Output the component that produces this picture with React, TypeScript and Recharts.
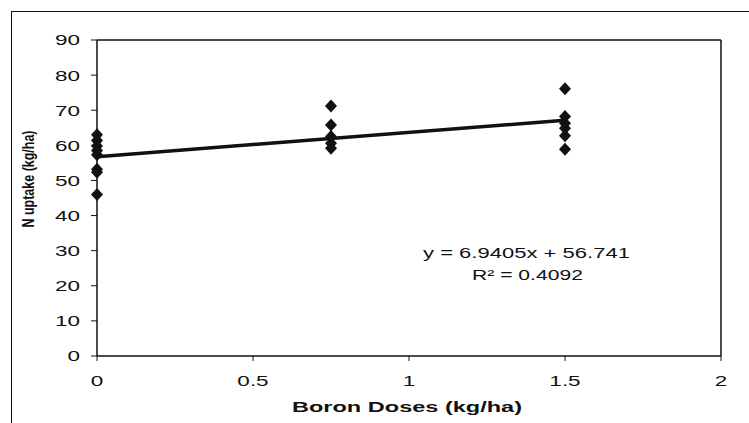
import React from 'react';
import {
  ScatterChart,
  Scatter,
  XAxis,
  YAxis,
  ReferenceLine,
} from 'recharts';

// Boron dose groups (kg/ha) and the N uptake readings at each
const doseNone = [0, 0, 0, 0, 0, 0, 0, 0];
const uptakeNone = [63, 61.4, 59.8, 58.5, 57.3, 53.2, 52.3, 46];
const doseMid = [0.75, 0.75, 0.75, 0.75, 0.75];
const uptakeMid = [71.2, 65.8, 62.5, 60.6, 59.2];
const doseHigh = [1.5, 1.5, 1.5, 1.5, 1.5, 1.5];
const uptakeHigh = [76.1, 68.2, 66.3, 64.9, 62.7, 58.9];

// linear trendline shown on the chart
const slope = 6.9405;
const intercept = 56.741;
const trendRange = [0, 1.5];

const xTicks = [0, 0.5, 1, 1.5, 2];
const yTicks = [0, 10, 20, 30, 40, 50, 60, 70, 80, 90];

const points = [
  ...doseNone.map((x, i) => ({ x, y: uptakeNone[i] })),
  ...doseMid.map((x, i) => ({ x, y: uptakeMid[i] })),
  ...doseHigh.map((x, i) => ({ x, y: uptakeHigh[i] })),
];
const trend = trendRange.map((x) => ({ x, y: slope * x + intercept }));

const ink = '#111';
const font = '"Liberation Sans", Arial, sans-serif';

function Diamond(props: any) {
  const { cx, cy } = props;
  if (cx == null || cy == null) return <g />;
  return (
    <path
      d={`M${cx},${cy - 6.5}L${cx + 6},${cy}L${cx},${cy + 6.5}L${cx - 6},${cy}Z`}
      fill={ink}
    />
  );
}

function YTick(props: any) {
  const { x, y, payload } = props;
  return (
    <g transform={`translate(${x},${y})`}>
      <text
        transform="scale(1.5,1)"
        textAnchor="end"
        dy="0.36em"
        fontSize={15}
        fontFamily={font}
        fill={ink}
      >
        {payload.value}
      </text>
    </g>
  );
}

function XTick(props: any) {
  const { x, y, payload } = props;
  return (
    <g transform={`translate(${x},${y})`}>
      <text
        transform="scale(1.5,1)"
        textAnchor="middle"
        dy="0.36em"
        fontSize={15}
        fontFamily={font}
        fill={ink}
      >
        {payload.value}
      </text>
    </g>
  );
}

export default function App() {
  return (
    <div
      style={{
        position: 'absolute',
        left: 0,
        top: 0,
        width: 749,
        height: 423,
        overflow: 'hidden',
        background: '#fff',
      }}
    >
      <div
        style={{
          position: 'absolute',
          left: 11,
          top: 11,
          width: 800,
          height: 500,
          border: `1.5px solid ${ink}`,
        }}
      />
      <div style={{ position: 'absolute', left: 0, top: 0 }}>
        <ScatterChart
          width={749}
          height={423}
          margin={{ top: 40, right: 28, bottom: 37, left: 37 }}
        >
          <XAxis
            type="number"
            dataKey="x"
            domain={[0, 2]}
            ticks={xTicks}
            height={30}
            tickSize={5}
            tickMargin={20}
            axisLine={{ stroke: ink, strokeWidth: 1.5 }}
            tickLine={{ stroke: ink, strokeWidth: 1 }}
            tick={<XTick />}
          />
          <YAxis
            type="number"
            dataKey="y"
            domain={[0, 90]}
            ticks={yTicks}
            width={60}
            tickSize={6}
            tickMargin={11}
            axisLine={{ stroke: ink, strokeWidth: 1.5 }}
            tickLine={{ stroke: ink, strokeWidth: 1 }}
            tick={<YTick />}
          />
          <ReferenceLine y={90} stroke={ink} strokeWidth={1.5} />
          <ReferenceLine x={2} stroke={ink} strokeWidth={1.5} />
          <Scatter
            data={trend}
            line={{ stroke: ink, strokeWidth: 3.5 }}
            shape={() => <g />}
            isAnimationActive={false}
          />
          <Scatter data={points} shape={Diamond} isAnimationActive={false} />
        </ScatterChart>
      </div>
      <svg
        width={749}
        height={423}
        style={{ position: 'absolute', left: 0, top: 0, pointerEvents: 'none' }}
      >
        <text
          transform="translate(28,179) scale(1.35,1) rotate(-90)"
          textAnchor="middle"
          dy="0.36em"
          fontSize={12}
          fontWeight="bold"
          fontFamily={font}
          fill={ink}
          textLength={97}
          lengthAdjust="spacingAndGlyphs"
        >
          N uptake (kg/ha)
        </text>
        <text
          x={292}
          y={412}
          fontSize={14}
          fontWeight="bold"
          fontFamily={font}
          fill={ink}
          textLength={230}
          lengthAdjust="spacingAndGlyphs"
        >
          Boron Doses (kg/ha)
        </text>
        <text
          x={423}
          y={258}
          fontSize={14}
          fontFamily={font}
          fill={ink}
          textLength={207}
          lengthAdjust="spacingAndGlyphs"
        >
          y = 6.9405x + 56.741
        </text>
        <text
          x={472}
          y={280}
          fontSize={14}
          fontFamily={font}
          fill={ink}
          textLength={111}
          lengthAdjust="spacingAndGlyphs"
        >
          R² = 0.4092
        </text>
      </svg>
    </div>
  );
}
